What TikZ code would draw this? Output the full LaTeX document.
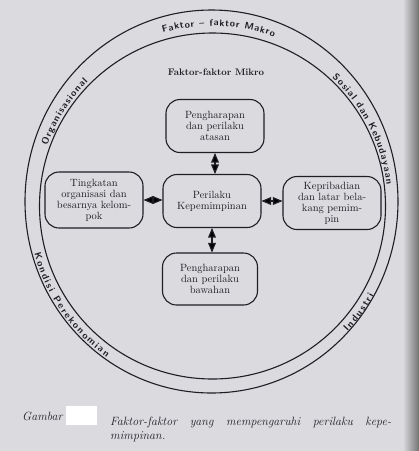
\documentclass[tikz,border=0pt]{standalone}
\usetikzlibrary{arrows,decorations.text}
\definecolor{kertas}{RGB}{218,218,223}
\definecolor{tinta}{RGB}{30,30,36}
\newcommand{\pitafont}{\sffamily\bfseries\fontsize{9.5}{9.5}\selectfont}

\begin{document}
\begin{tikzpicture}[line cap=round,line join=round,>=triangle 45,x=1pt,y=1pt,
	kotak/.style={draw=tinta,line width=1.1pt,rounded corners=14pt,minimum width=98pt,minimum height=53pt,
		inner sep=1pt,align=center,text=tinta,font=\fontsize{10.5}{11}\selectfont},
	panah/.style={<->,draw=tinta,line width=1.2pt},
	pita/.style={decorate,decoration={text along path,text align={fit to path},text color=tinta,text={#1}}}]
		% kertas
		\useasboundingbox (0,0) rectangle (419,-451);
		\fill[kertas] (0,0) rectangle (419,-451);
		\shade[left color=kertas,right color=black!55] (403,0) rectangle (419,-451);
		% lingkaran luar dan dalam
		\coordinate (pusat) at (212.5,-206);
		\draw[tinta,line width=1.1pt] (211.5,-201.5) ellipse [x radius=186.5,y radius=191.5];
		\draw[tinta,line width=1.1pt] (pusat) circle (173);
		% tulisan faktor makro
		\path[pita={|\pitafont|Faktor {--} faktor Makro}] (pusat) ++(106:180) arc (106:70:180);
		\path[pita={|\pitafont|Organisasional}] (pusat) ++(160:176) arc (160:135:176);
		\path[pita={|\pitafont|Sosial dan Kebudayaan}] (pusat) ++(47:175.5) arc (47:7:175.5);
		\path[pita={|\pitafont|Kondisi Perekonomian}] (pusat) ++(195:184.5) arc (195:235:184.5);
		\path[pita={|\pitafont|Industri}] (pusat) ++(317:184.5) arc (317:331:184.5);
		% faktor mikro
		\node[text=tinta,font=\bfseries\fontsize{9.5}{10}\selectfont] (mikro) at (216,-72) {Faktor-faktor Mikro};
		\node[kotak] (atasan) at (215,-126) {Pengharapan\\dan perilaku\\atasan};
		\node[kotak] (perilaku) at (212,-201) {Perilaku\\Kepemimpinan};
		\node[kotak,minimum height=56pt] (organisasi) at (94,-200) {Tingkatan\\organisasi dan\\besarnya kelom-\\pok};
		\node[kotak] (pemimpin) at (332,-203) {Kepribadian\\dan latar bela-\\kang pemim-\\pin};
		\node[kotak,minimum width=95pt,minimum height=52pt] (bawahan) at (210,-279) {Pengharapan\\dan perilaku\\bawahan};
		% panah
		\draw[panah] (atasan.south) -- (atasan.south |- perilaku.north);
		\draw[panah] (perilaku.south) -- (perilaku.south |- bawahan.north);
		\draw[panah] (organisasi.east) -- (organisasi.east -| perilaku.west);
		\draw[panah] (perilaku.east) -- (perilaku.east -| pemimpin.west);
		% keterangan
		\node[anchor=base west,inner sep=0,text=tinta,font=\itshape\fontsize{12}{14}\selectfont] (gambar) at (22,-420) {Gambar};
		\node[anchor=north west,fill=white,inner sep=0,minimum width=31pt,minimum height=19pt] (nomor) at (66,-406) {};
		\node[anchor=north west,inner sep=0,text width=281pt,align=justify,text=tinta,
			font=\itshape\fontsize{12}{14}\selectfont] (judul) at (110,-416.5)
			{Faktor-faktor yang mempengaruhi perilaku kepe-\linebreak mimpinan.};
		\end{tikzpicture}
\end{document}
